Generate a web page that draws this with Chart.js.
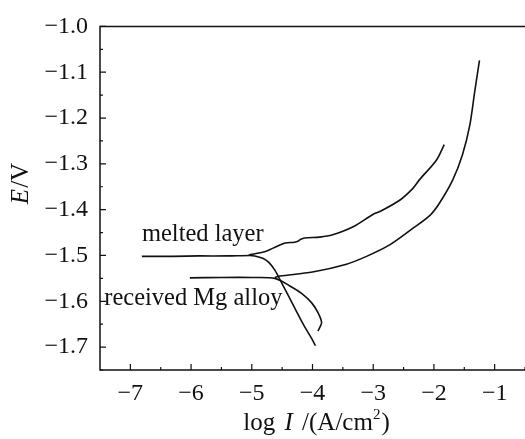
<!DOCTYPE html>
<html>
<head>
<meta charset="utf-8">
<title>Polarization curves</title>
<script src="https://cdn.jsdelivr.net/npm/chart.js@4.4.1/dist/chart.umd.min.js"></script>
<style>
  html, body { margin: 0; padding: 0; background: #fff; overflow: hidden; }
  #wrap { width: 525px; height: 439px; }
</style>
</head>
<body>
<div id="wrap"><canvas id="polChart"></canvas></div>
<script>
// Axis ticks
const xTickValues = [-7, -6, -5, -4, -3, -2, -1];
const yTickValues = [-1.0, -1.1, -1.2, -1.3, -1.4, -1.5, -1.6, -1.7];

// Melted layer - cathodic branch (flat part from the left, then drop)
const meltedCathLogI = [-6.81, -6.30, -5.86, -5.40, -5.03, -4.95, -4.82, -4.72, -4.62, -4.50, -4.33, -4.16, -4.02, -3.95];
const meltedCathE    = [-1.502, -1.502, -1.501, -1.501, -1.500, -1.501, -1.506, -1.515, -1.532, -1.562, -1.605, -1.648, -1.680, -1.697];

// Melted layer - anodic branch
const meltedAnodLogI = [-5.05, -4.79, -4.65, -4.45, -4.30, -4.24, -4.21, -4.13, -3.88, -3.67, -3.34, -3.00, -2.89, -2.57, -2.35, -2.24, -1.96, -1.83];
const meltedAnodE    = [-1.499, -1.492, -1.484, -1.473, -1.471, -1.469, -1.466, -1.462, -1.460, -1.455, -1.438, -1.410, -1.404, -1.380, -1.354, -1.335, -1.292, -1.258];

// As-received Mg alloy - cathodic branch (with hook at the end)
const recvCathLogI = [-6.02, -5.50, -5.00, -4.62, -4.38, -4.18, -4.01, -3.91, -3.85, -3.88, -3.91];
const recvCathE    = [-1.549, -1.548, -1.548, -1.550, -1.566, -1.583, -1.604, -1.625, -1.646, -1.657, -1.665];

// As-received Mg alloy - anodic branch
const recvAnodLogI = [-4.62, -4.54, -4.00, -3.44, -3.11, -2.73, -2.35, -2.07, -1.91, -1.69, -1.53, -1.41, -1.33, -1.25];
const recvAnodE    = [-1.548, -1.545, -1.536, -1.519, -1.502, -1.477, -1.441, -1.413, -1.386, -1.335, -1.280, -1.216, -1.144, -1.074];

const serif = "'Liberation Serif', 'Times New Roman', serif";
const ink = '#111';

function toPoints(xs, ys) {
    return xs.map((v, i) => ({ x: v, y: ys[i] }));
}

function curve(xs, ys) {
    return {
        data: toPoints(xs, ys),
        showLine: true,
        borderColor: ink,
        borderWidth: 1.6,
        pointRadius: 0,
        tension: 0.3,
        fill: false
    };
}

// Draws the frame, inward ticks, axis titles and curve labels
const decorPlugin = {
    id: 'decor',
    afterDraw(chart) {
        const { ctx, chartArea: a, scales: { x, y } } = chart;
        ctx.save();
        ctx.strokeStyle = ink;
        ctx.lineWidth = 1.5;
        ctx.beginPath();
        ctx.moveTo(a.right + 2, a.top);
        ctx.lineTo(a.left, a.top);
        ctx.lineTo(a.left, a.bottom);
        ctx.lineTo(a.right + 2, a.bottom);
        ctx.stroke();

        ctx.lineWidth = 1.2;
        ctx.beginPath();
        xTickValues.forEach(v => {
            const px = x.getPixelForValue(v);
            ctx.moveTo(px, a.bottom); ctx.lineTo(px, a.bottom - 6);
            const pm = x.getPixelForValue(v + 0.5);
            ctx.moveTo(pm, a.bottom); ctx.lineTo(pm, a.bottom - 3);
        });
        yTickValues.forEach(v => {
            const py = y.getPixelForValue(v);
            ctx.moveTo(a.left, py); ctx.lineTo(a.left + 6, py);
            const pm = y.getPixelForValue(v - 0.05);
            ctx.moveTo(a.left, pm); ctx.lineTo(a.left + 3, pm);
        });
        ctx.stroke();

        ctx.fillStyle = ink;
        ctx.textBaseline = 'alphabetic';
        ctx.textAlign = 'left';

        // curve labels
        ctx.font = '24.5px ' + serif;
        ctx.fillText('melted layer', x.getPixelForValue(-6.81), y.getPixelForValue(-1.468));
        ctx.fillText('received Mg alloy', x.getPixelForValue(-7.43), y.getPixelForValue(-1.608));

        // x axis title: log I /(A/cm^2)
        const parts = [
            { t: 'log ', f: '25px ' + serif, dy: 0, gap: 3 },
            { t: 'I', f: 'italic 25px ' + serif, dy: 0, gap: 3 },
            { t: ' /(A/cm', f: '25px ' + serif, dy: 0, gap: 0 },
            { t: '2', f: '15px ' + serif, dy: -11, gap: 1 },
            { t: ')', f: '25px ' + serif, dy: 0, gap: 0 }
        ];
        let total = 0;
        parts.forEach(p => { ctx.font = p.f; p.w = ctx.measureText(p.t).width; total += p.w + p.gap; });
        let cx = (a.left + a.right) / 2 + 4 - total / 2;
        const base = 430;
        parts.forEach(p => {
            ctx.font = p.f;
            ctx.fillText(p.t, cx, base + p.dy);
            cx += p.w + p.gap;
        });

        // y axis title: E/V (rotated)
        ctx.translate(28, 184);
        ctx.rotate(-Math.PI / 2);
        ctx.font = 'italic 25px ' + serif;
        const wE = ctx.measureText('E').width;
        ctx.font = '25px ' + serif;
        const wV = ctx.measureText('/V').width;
        let sx = -(wE + wV) / 2;
        ctx.font = 'italic 25px ' + serif;
        ctx.fillText('E', sx, 0);
        ctx.font = '25px ' + serif;
        ctx.fillText('/V', sx + wE + 1, 0);
        ctx.restore();
    }
};

document.addEventListener('DOMContentLoaded', function() {
    const ctx = document.getElementById('polChart').getContext('2d');

    new Chart(ctx, {
        type: 'scatter',
        data: {
            datasets: [
                curve(meltedCathLogI, meltedCathE),
                curve(meltedAnodLogI, meltedAnodE),
                curve(recvCathLogI, recvCathE),
                curve(recvAnodLogI, recvAnodE)
            ]
        },
        options: {
            responsive: true,
            maintainAspectRatio: false,
            animation: false,
            layout: { padding: { top: 15, right: 0, left: 0, bottom: 0 } },
            plugins: {
                legend: { display: false },
                tooltip: { enabled: false }
            },
            scales: {
                x: {
                    type: 'linear',
                    min: -7.5,
                    max: -0.5,
                    grid: { display: false, drawTicks: false },
                    border: { display: false },
                    afterFit: s => { s.height = 69; },
                    afterBuildTicks: s => { s.ticks = xTickValues.map(v => ({ value: v })); },
                    ticks: {
                        color: ink,
                        padding: 9,
                        maxRotation: 0,
                        font: { family: serif, size: 24 },
                        callback: v => '\u2212' + Math.abs(v)
                    }
                },
                y: {
                    type: 'linear',
                    min: -1.75,
                    max: -1.0,
                    grid: { display: false, drawTicks: false },
                    border: { display: false },
                    afterFit: s => { s.width = 100; },
                    afterBuildTicks: s => { s.ticks = yTickValues.map(v => ({ value: v })); },
                    ticks: {
                        color: ink,
                        padding: 12,
                        font: { family: serif, size: 24 },
                        callback: v => '\u2212' + Math.abs(v).toFixed(1)
                    }
                }
            }
        },
        plugins: [decorPlugin]
    });
});
</script>
</body>
</html>
